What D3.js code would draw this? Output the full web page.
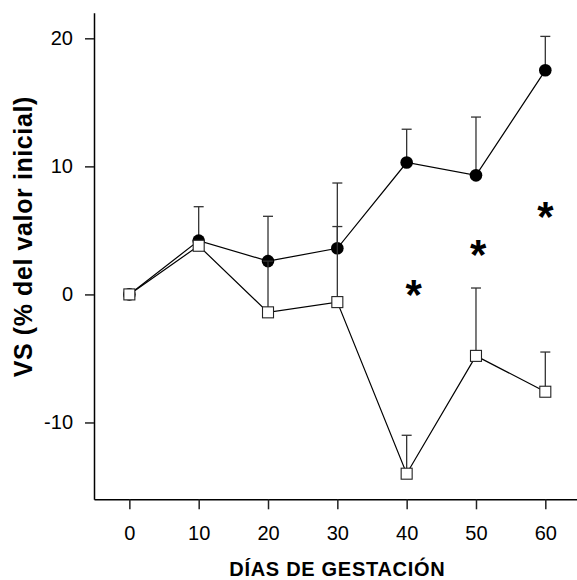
<!DOCTYPE html>
<html>
<head>
<meta charset="utf-8">
<script src="https://cdn.jsdelivr.net/npm/d3@7"></script>
<style>
  body { margin: 0; background: #fff; }
  svg { display: block; font-family: "Liberation Sans", Arial, sans-serif; }
</style>
</head>
<body>
<svg id="chart" width="577" height="580"></svg>
<script>
const days = [0, 10, 20, 30, 40, 50, 60];
const filledMean = [0, 4.2, 2.6, 3.6, 10.3, 9.3, 17.5];
const filledErr = [0, 2.65, 3.5, 5.1, 2.6, 4.55, 2.65];
const openMean = [0, 3.8, -1.4, -0.6, -14.0, -4.8, -7.6];
const openErr = [0, 0, 4.0, 5.9, 3.0, 5.3, 3.1];
const sigDays = [41, 50.3, 60];
const sigValues = [0.5, 3.6, 6.6];
const xTicks = [0, 10, 20, 30, 40, 50, 60];
const yTicks = [-10, 0, 10, 20];

const svg = d3.select('#chart');

const x = d3.scaleLinear().domain([-5.1, 64.6]).range([94, 577.2]);
const y = d3.scaleLinear().domain([-16, 22]).range([499.3, 12.7]);

// axes (plain hyphen for negatives)
const xAxis = svg.append('g')
  .attr('transform', 'translate(0,' + y(-16) + ')')
  .call(d3.axisBottom(x).tickValues(xTicks).tickSize(10).tickSizeOuter(0).tickPadding(17));
const yAxis = svg.append('g')
  .attr('transform', 'translate(' + x(-5.1) + ',0)')
  .call(d3.axisLeft(y).tickValues(yTicks).tickSize(9).tickSizeOuter(0).tickPadding(12)
    .tickFormat(function (d) { return String(d); }));

[xAxis, yAxis].forEach(function (a) {
  a.select('.domain').attr('stroke', '#000').attr('stroke-width', 1.5);
  a.selectAll('.tick line').attr('stroke', '#222').attr('stroke-width', 1.5);
  a.selectAll('.tick text')
    .attr('font-size', '20px')
    .attr('font-family', '"Liberation Sans", Arial, sans-serif')
    .attr('fill', '#000');
});

svg.append('text')
  .attr('x', x(30))
  .attr('y', 576)
  .attr('text-anchor', 'middle')
  .attr('font-size', '20px')
  .attr('font-weight', 'bold')
  .attr('letter-spacing', '0.7px')
  .text('DÍAS DE GESTACIÓN');

svg.append('text')
  .attr('transform', 'translate(31.5,236.7) rotate(-90)')
  .attr('text-anchor', 'middle')
  .attr('font-size', '25px')
  .attr('font-weight', 'bold')
  .attr('letter-spacing', '0.6px')
  .text('VS (% del valor inicial)');

const line = d3.line()
  .x(function (d) { return x(d.day); })
  .y(function (d) { return y(d.v); });

function series(means, errs) {
  return days.map(function (d, i) { return {day: d, v: means[i], e: errs[i]}; });
}

function drawErrors(data) {
  const g = svg.append('g')
    .attr('stroke', '#333')
    .attr('stroke-width', 1.3);
  data.filter(function (d) { return d.e > 0; }).forEach(function (d) {
    g.append('line')
      .attr('x1', x(d.day)).attr('x2', x(d.day))
      .attr('y1', y(d.v)).attr('y2', y(d.v + d.e));
    g.append('line')
      .attr('x1', x(d.day) - 5).attr('x2', x(d.day) + 5)
      .attr('y1', y(d.v + d.e)).attr('y2', y(d.v + d.e));
  });
}

const filled = series(filledMean, filledErr);
const open = series(openMean, openErr);

// filled circles series
drawErrors(filled);
svg.append('path')
  .datum(filled)
  .attr('fill', 'none')
  .attr('stroke', '#000')
  .attr('stroke-width', 1.2)
  .attr('d', line);
svg.append('g')
  .selectAll('circle')
  .data(filled)
  .enter()
  .append('circle')
  .attr('cx', function (d) { return x(d.day); })
  .attr('cy', function (d) { return y(d.v); })
  .attr('r', 6.3)
  .attr('fill', '#000');

// open squares series
drawErrors(open);
svg.append('path')
  .datum(open)
  .attr('fill', 'none')
  .attr('stroke', '#000')
  .attr('stroke-width', 1.2)
  .attr('d', line);
svg.append('g')
  .selectAll('rect')
  .data(open)
  .enter()
  .append('rect')
  .attr('x', function (d) { return x(d.day) - 5.5; })
  .attr('y', function (d) { return y(d.v) - 5.5; })
  .attr('width', 11)
  .attr('height', 11)
  .attr('fill', '#fff')
  .attr('stroke', '#222')
  .attr('stroke-width', 1.1);

// significance marks
svg.append('g')
  .selectAll('text')
  .data(sigDays)
  .enter()
  .append('text')
  .attr('x', function (d) { return x(d); })
  .attr('y', function (d, i) { return y(sigValues[i]) + 21; })
  .attr('text-anchor', 'middle')
  .attr('font-size', '42px')
  .attr('font-weight', 'bold')
  .text('*');
</script>
</body>
</html>
